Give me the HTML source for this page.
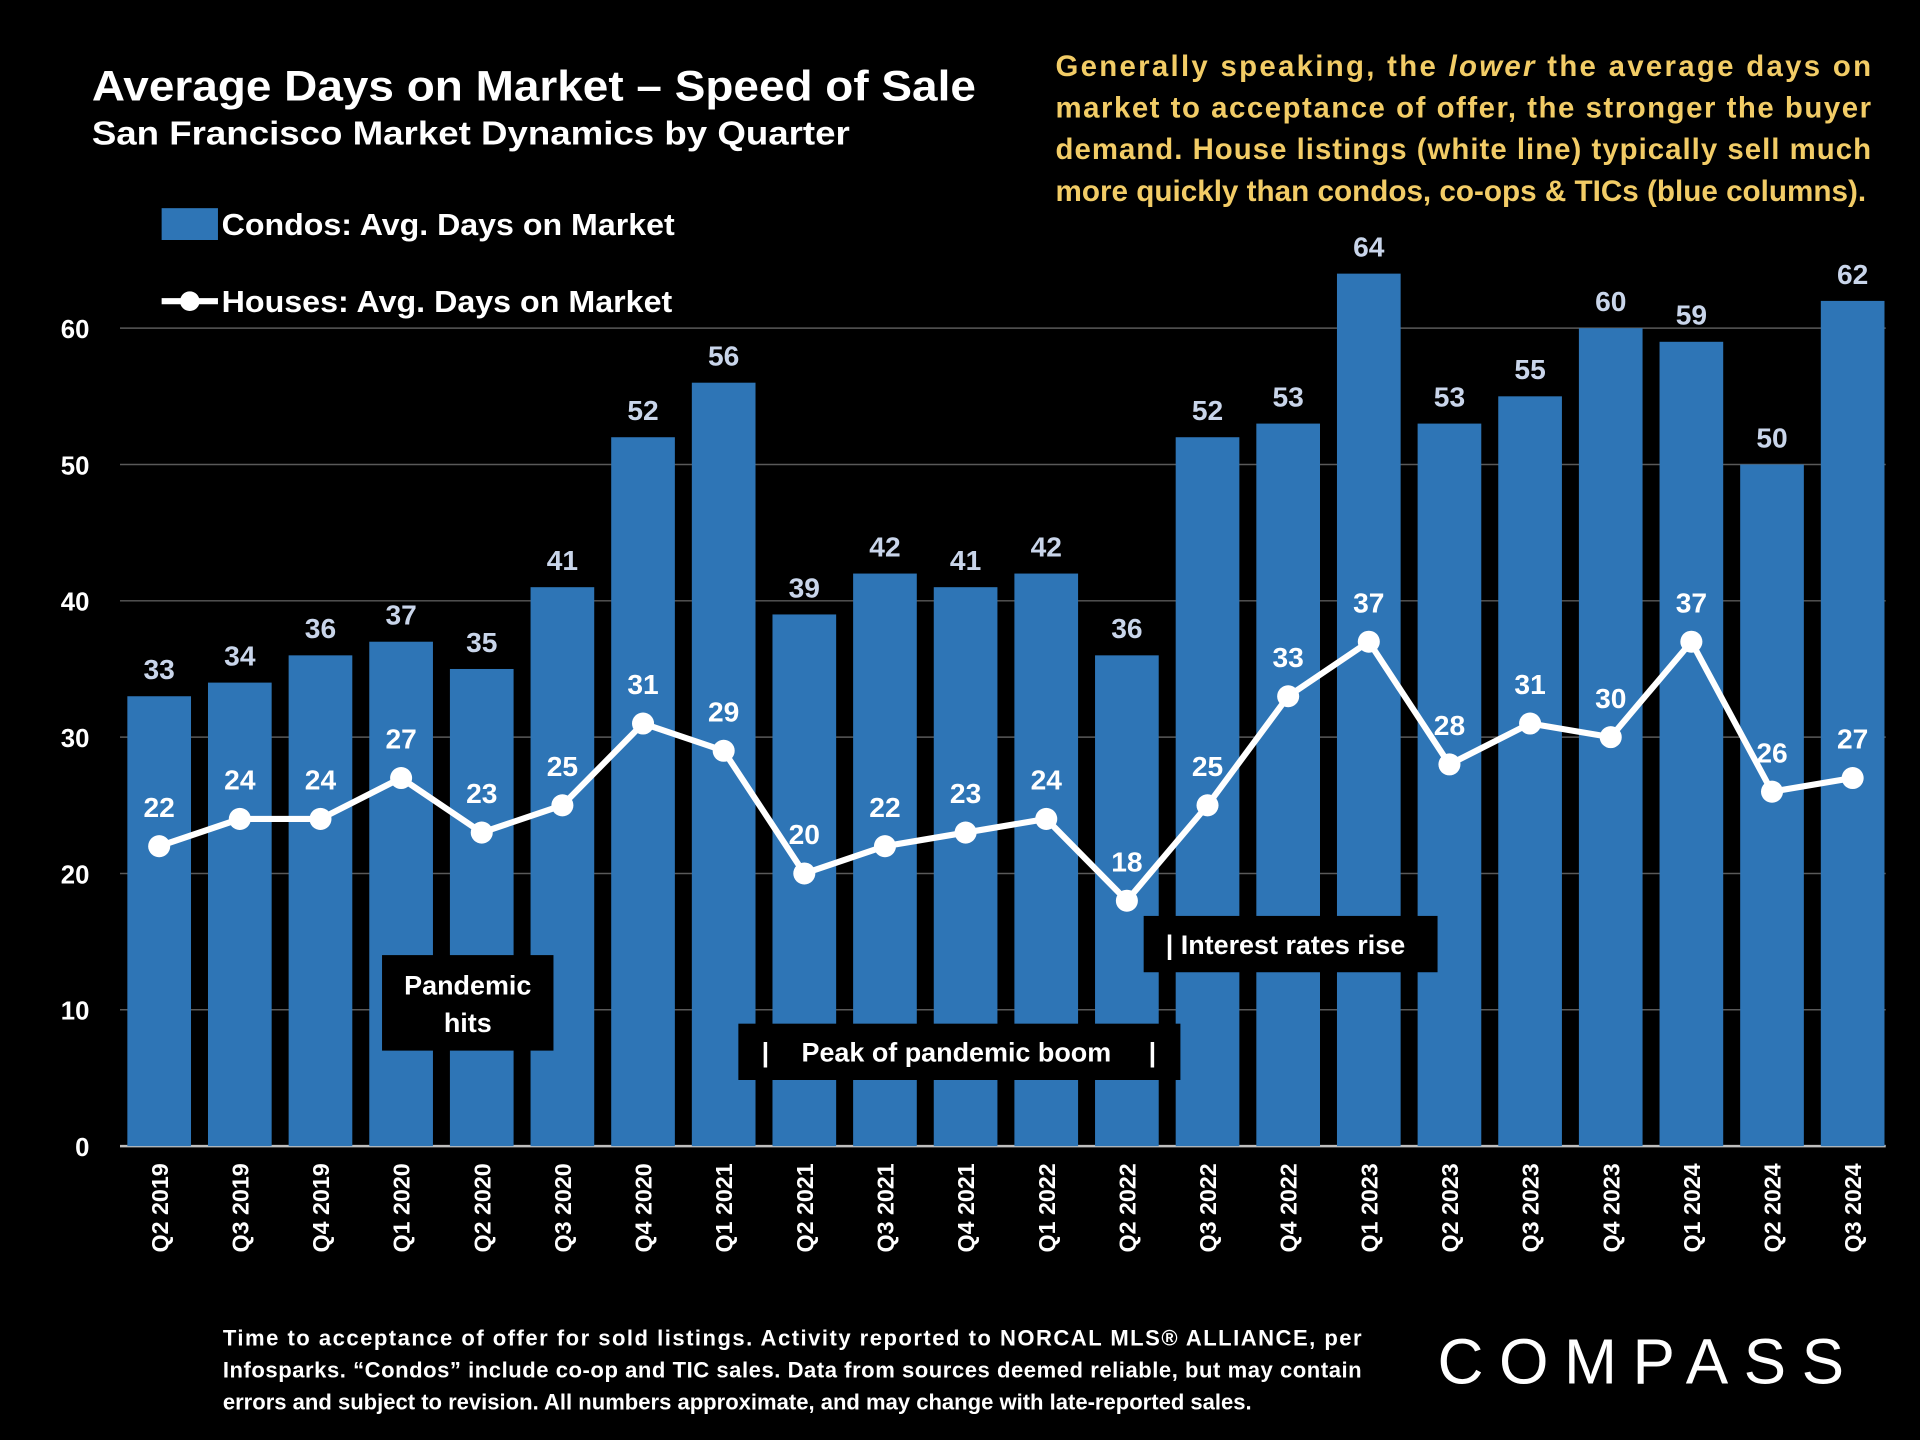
<!DOCTYPE html>
<html><head><meta charset="utf-8"><style>
html,body{margin:0;padding:0;background:#000;}
svg{display:block;}
text{font-family:"Liberation Sans",sans-serif;font-weight:bold;}
</style></head><body>
<svg id="chart" width="1920" height="1440" viewBox="0 0 1568 1176" xmlns="http://www.w3.org/2000/svg">
<rect width="1568" height="1176" fill="#000"/>
<text x="75" y="82" fill="#fff" font-size="35" textLength="722" lengthAdjust="spacingAndGlyphs">Average Days on Market – Speed of Sale</text>
<text x="75" y="118" fill="#fff" font-size="27" textLength="619" lengthAdjust="spacingAndGlyphs">San Francisco Market Dynamics by Quarter</text>
<g fill="#f2cc66" font-size="24">
<text x="862" y="62" textLength="666" lengthAdjust="spacing">Generally speaking, the <tspan font-style="italic">lower</tspan> the average days on</text>
<text x="862" y="96" textLength="666" lengthAdjust="spacing">market to acceptance of offer, the stronger the buyer</text>
<text x="862" y="130" textLength="666" lengthAdjust="spacing">demand.  House listings (white line) typically sell much</text>
<text x="862" y="164" textLength="662" lengthAdjust="spacingAndGlyphs">more quickly than condos, co-ops &amp; TICs (blue columns).</text>
</g>
<g id="grid"></g>
<g id="bars"></g>
<g id="line"></g>
<g id="labels"></g>
<g>
<rect x="132" y="170" width="46" height="26" fill="#2e75b6"/>
<text x="181" y="192" fill="#fff" font-size="25" textLength="370" lengthAdjust="spacingAndGlyphs">Condos: Avg. Days on Market</text>
<line x1="132" y1="246" x2="178" y2="246" stroke="#fff" stroke-width="5"/>
<circle cx="155" cy="246" r="8" fill="#fff"/>
<text x="181" y="255" fill="#fff" font-size="25" textLength="368" lengthAdjust="spacingAndGlyphs">Houses: Avg. Days on Market</text>
</g>
<g>
<rect x="312" y="780" width="140" height="78" fill="#000"/>
<text x="382" y="812" fill="#fff" font-size="22" text-anchor="middle">Pandemic</text>
<text x="382" y="843" fill="#fff" font-size="22" text-anchor="middle">hits</text>
</g>
<g>
<rect x="603" y="836" width="361" height="46" fill="#000"/>
<text x="622" y="867" fill="#fff" font-size="22">|</text>
<text x="781" y="867" fill="#fff" font-size="22" text-anchor="middle">Peak of pandemic boom</text>
<text x="938" y="867" fill="#fff" font-size="22">|</text>
</g>
<g>
<rect x="934" y="748" width="240" height="46" fill="#000"/>
<text x="952" y="779" fill="#fff" font-size="22">| Interest rates rise</text>
</g>
<g fill="#fff" font-size="18">
<text x="182" y="1099" textLength="930" lengthAdjust="spacing">Time to acceptance of offer for sold listings. Activity reported to NORCAL MLS® ALLIANCE, per</text>
<text x="182" y="1125" textLength="930" lengthAdjust="spacing">Infosparks. “Condos” include co-op and TIC sales. Data from sources deemed reliable, but may contain</text>
<text x="182" y="1151">errors and subject to revision. All numbers approximate, and may change with late-reported sales.</text>
</g>
<text x="1174" y="1130" fill="#fff" font-size="52" style="font-weight:normal" textLength="332" lengthAdjust="spacing">COMPASS</text>
</svg>
<script>
const categories=["Q2 2019","Q3 2019","Q4 2019","Q1 2020","Q2 2020","Q3 2020","Q4 2020","Q1 2021","Q2 2021","Q3 2021","Q4 2021","Q1 2022","Q2 2022","Q3 2022","Q4 2022","Q1 2023","Q2 2023","Q3 2023","Q4 2023","Q1 2024","Q2 2024","Q3 2024"];
const condos=[33,34,36,37,35,41,52,56,39,42,41,42,36,52,53,64,53,55,60,59,50,62];
const houses=[22,24,24,27,23,25,31,29,20,22,23,24,18,25,33,37,28,31,30,37,26,27];
const yTicks=[0,10,20,30,40,50,60];
const NS="http://www.w3.org/2000/svg";
const y0=936,pxPerUnit=668/60,x0=130,step=(1513-130)/21,bw=52;
const yS=v=>y0-v*pxPerUnit;
const xS=i=>x0+i*step;
function mk(tag,attrs,parent,txt){const e=document.createElementNS(NS,tag);for(const k in attrs)e.setAttribute(k,attrs[k]);if(txt!==undefined)e.textContent=txt;parent.appendChild(e);return e;}
const grid=document.getElementById('grid'),bars=document.getElementById('bars'),line=document.getElementById('line'),labels=document.getElementById('labels');
yTicks.forEach(t=>{
  const l=mk('line',{x1:98,x2:1540,y1:yS(t),y2:yS(t),stroke:t===0?'#bfbfbf':'#595959','stroke-width':t===0?2:1.2},grid);
  
  
  const tx=mk('text',{x:73,y:yS(t)+8,fill:'#fff','font-size':21,'text-anchor':'end'},grid,String(t));
  
  
});
categories.forEach((c,i)=>{
  const r=mk('rect',{x:xS(i)-bw/2,y:yS(condos[i]),width:bw,height:condos[i]*pxPerUnit,fill:'#2e75b6'},bars);
  
  
  const bl=mk('text',{x:xS(i),y:yS(condos[i])-14,fill:'#c9d5ea','font-size':23,'text-anchor':'middle'},labels,String(condos[i]));
  
  
  const xl=mk('text',{x:0,y:0,fill:'#fff','font-size':19,'text-anchor':'end',transform:`translate(${xS(i)+7},950) rotate(-90)`},labels,c);
  
  
});
const pts=houses.map((v,i)=>xS(i)+','+yS(v)).join(' ');
const pl=mk('polyline',{points:pts,fill:'none',stroke:'#fff','stroke-width':5,'stroke-linejoin':'round'},line);


houses.forEach((v,i)=>{
  const c=mk('circle',{cx:xS(i),cy:yS(v),r:9,fill:'#fff'},line);
  
  
  const t=mk('text',{x:xS(i),y:yS(v)-24,fill:'#fff','font-size':23,'text-anchor':'middle'},labels,String(v));
  
  
});
</script>
</body></html>
